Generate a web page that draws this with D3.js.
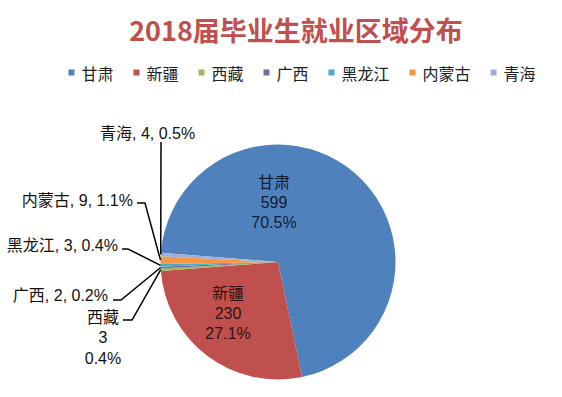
<!DOCTYPE html>
<html>
<head>
<meta charset="utf-8">
<script src="https://cdn.jsdelivr.net/npm/d3@7"></script>
<style>
body { margin: 0; background: #fff; }
svg { display: block; }
</style>
</head>
<body>
<div id="chart"></div>
<script>
var regions = ["甘肃", "新疆", "西藏", "广西", "黑龙江", "内蒙古", "青海"];
var counts = [599, 230, 3, 2, 3, 9, 4];
var palette = ["#4f81bd", "#c0504d", "#9bbb59", "#8064a2", "#4bacc6", "#f79646", "#9aafd9"];
var title = "2018届毕业生就业区域分布";

var width = 562, height = 397;
var cx = 278, cy = 262, r = 117.5;
var font = "'Noto Sans CJK SC', 'Noto Sans', sans-serif";
// labels: latin first so the digit lines keep a tight box
var labelFont = "'Liberation Sans', 'Noto Sans CJK SC', sans-serif";

var total = d3.sum(counts);
var pct = d3.format(".1%");
var rows = regions.map(function(name, i){
    return {name: name, count: counts[i], share: pct(counts[i] / total), color: palette[i]};
});

var svg = d3.select("#chart").append("svg")
    .attr("width", width)
    .attr("height", height)
    .style("font-family", font);

// title
svg.append("text")
    .attr("x", 296)
    .attr("y", 29)
    .attr("text-anchor", "middle")
    .attr("dominant-baseline", "central")
    .style("font-size", "27px")
    .style("font-weight", "bold")
    .style("fill", "#c0504d")
    .text(title);

// legend, laid out from measured text widths
var legend = svg.append("g");
var items = legend.selectAll("g").data(rows).enter().append("g");
items.append("rect")
    .attr("y", 69.5)
    .attr("width", 6)
    .attr("height", 6)
    .attr("fill", function(d){ return d.color; });
items.append("text")
    .attr("x", 13)
    .attr("y", 72.5)
    .attr("dominant-baseline", "central")
    .style("font-size", "16px")
    .style("fill", "#222")
    .text(function(d){ return d.name; });
var lx = 0, gap = 20;
items.each(function(){
    var w = 13 + d3.select(this).select("text").node().getComputedTextLength();
    d3.select(this).attr("transform", "translate(" + lx + ",0)");
    lx += w + gap;
});
var legendWidth = lx - gap;
legend.attr("transform", "translate(" + (302 - legendWidth / 2) + ",0)");

// pie
var a0 = -85.5 * Math.PI / 180;
var pie = d3.pie().sort(null).value(function(d){ return d.count; })
    .startAngle(a0).endAngle(a0 + 2 * Math.PI);
var arcs = pie(rows);
var arc = d3.arc().innerRadius(0).outerRadius(r);
var rim = d3.arc().innerRadius(r).outerRadius(r);

var g = svg.append("g").attr("transform", "translate(" + cx + "," + cy + ")");
g.selectAll("path").data(arcs).enter().append("path")
    .attr("d", arc)
    .attr("fill", function(d){ return d.data.color; });

// labels inside the two large slices (offsets from pie centre)
var inside = [
    {i: 0, dx: -4, dy: -60},
    {i: 1, dx: -50, dy: 51}
];
inside.forEach(function(s){
    var d = rows[s.i];
    [d.name, d.count, d.share].forEach(function(line, k){
        g.append("text")
            .attr("x", s.dx)
            .attr("y", s.dy + (k - 1) * 20)
            .attr("text-anchor", "middle")
            .attr("dominant-baseline", "central")
            .style("font-family", labelFont)
            .style("font-size", "16px")
            .style("fill", "#000")
            .style("fill-opacity", 0.8)
            .text(line);
    });
});

// callout labels for the small slices
var callouts = [
    {i: 2, x: 103, y: 317, anchor: "middle", stack: true, lead: [[123, 320], [132, 320]]},
    {i: 3, x: 108, y: 295, anchor: "end", lead: [[113, 300], [121, 300]]},
    {i: 4, x: 118, y: 245, anchor: "end", lead: [[122, 249], [128, 249]]},
    {i: 5, x: 133, y: 200, anchor: "end", lead: [[137, 203], [145, 203]]},
    {i: 6, x: 100, y: 133, anchor: "start", lead: [[161, 142], [161, 142]]}
];
var line = d3.line();
callouts.forEach(function(c){
    var d = rows[c.i];
    var edge = rim.centroid(arcs[c.i]);
    var pts = c.lead.concat([[cx + edge[0], cy + edge[1]]]);
    svg.append("path")
        .attr("d", line(pts))
        .attr("fill", "none")
        .attr("stroke", "#000")
        .attr("stroke-width", 1.5);
    var lines = c.stack ? [d.name, d.count, d.share] : [d.name + ", " + d.count + ", " + d.share];
    lines.forEach(function(txt, k){
        svg.append("text")
            .attr("x", c.x)
            .attr("y", c.y + k * 20.5)
            .attr("text-anchor", c.anchor)
            .attr("dominant-baseline", "central")
            .style("font-family", labelFont)
            .style("font-size", "16px")
            .style("fill", "#111")
            .text(txt);
    });
});
</script>
</body>
</html>
